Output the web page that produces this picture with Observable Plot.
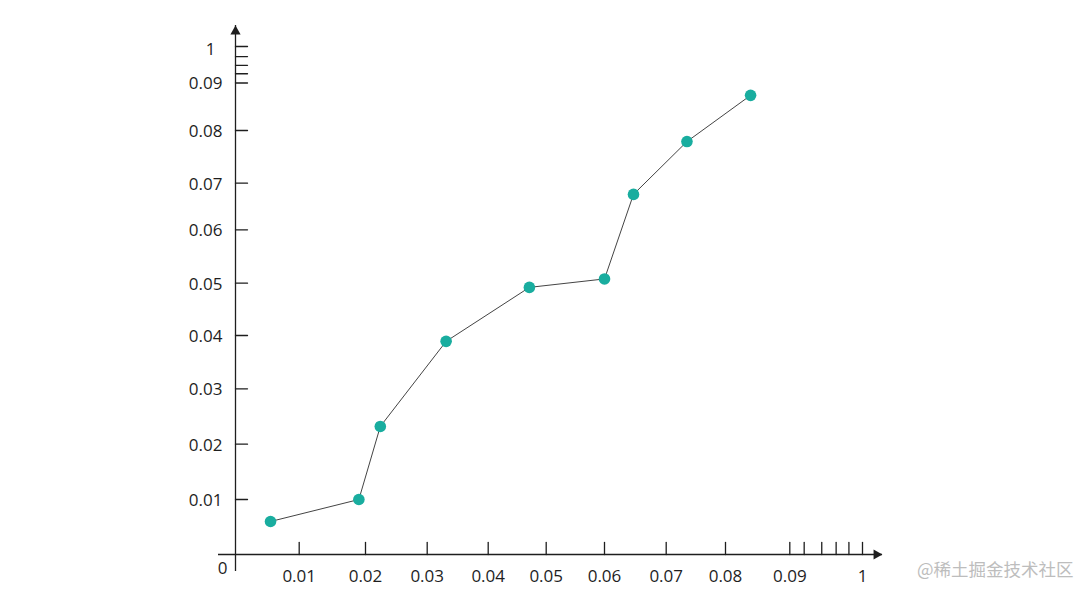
<!DOCTYPE html>
<html>
<head>
<meta charset="utf-8">
<script src="https://cdn.jsdelivr.net/npm/d3@7"></script>
<script src="https://cdn.jsdelivr.net/npm/@observablehq/plot@0.6"></script>
<style>
  html, body { margin: 0; padding: 0; background: #fff; }
  #chart svg { display: block; }
</style>
</head>
<body>
<div id="chart"></div>
<script>
// ---- data ----
const xValues = [0.0055, 0.0190, 0.0224, 0.0331, 0.0471, 0.0600, 0.0647, 0.0735, 0.0839];
const yValues = [0.0060, 0.0100, 0.0232, 0.0389, 0.0492, 0.0508, 0.0676, 0.0779, 0.0874];

// ---- axis ticks and labels ----
const majorTicks  = [0.01, 0.02, 0.03, 0.04, 0.05, 0.06, 0.07, 0.08, 0.09];
const majorLabels = ["0.01", "0.02", "0.03", "0.04", "0.05", "0.06", "0.07", "0.08", "0.09"];
const xMinorTicks = [0.27, 0.49, 0.67, 0.83, 1];
const yMinorTicks = [0.32, 0.53, 0.75, 1];
const endValue = 1;
const endLabel = "1";
const originLabel = "0";
const watermark = "@稀土掘金技术社区";

const points = xValues.map((x, i) => ({x, y: yValues[i]}));
const scaleDomain = [0, ...majorTicks, endValue];

const tickShape = { draw(ctx, l) { ctx.moveTo(0, 0); ctx.lineTo(0, -l); } };
const ink = "#1e1e1e";
const font = "'Open Sans', 'Noto Sans', sans-serif";
const fs = 17;

const chart = Plot.plot({
  width: 1080,
  height: 594,
  marginLeft: 218,
  marginRight: 198,
  marginTop: 25,
  marginBottom: 23,
  style: { fontFamily: font, background: "#fff", color: ink },
  x: { type: "linear", domain: scaleDomain,
       range: [235, 298.7, 365, 426.7, 487.7, 545.7, 604, 665.7, 725, 789.3, 862], axis: null },
  y: { type: "linear", domain: scaleDomain,
       range: [554, 499, 443.7, 388.3, 335, 282.7, 229.3, 182.7, 130, 82.5, 46], axis: null },
  marks: [
    // axis lines
    Plot.ruleY([0], { stroke: ink, strokeWidth: 1.3 }),
    Plot.ruleX([0], { stroke: ink, strokeWidth: 1.3 }),
    // arrowheads
    Plot.dot([0], { y: d => d, frameAnchor: "right", symbol: "triangle", rotate: 90, r: 3.8, fill: ink, stroke: "none", dx: -6 }),
    Plot.dot([0], { x: d => d, frameAnchor: "top", symbol: "triangle", r: 3.8, fill: ink, stroke: "none", dy: 6 }),
    // ticks
    Plot.vector([...majorTicks, ...xMinorTicks], { x: d => d, y: 0, length: 12, anchor: "start", shape: tickShape, stroke: ink, strokeWidth: 1.3 }),
    Plot.vector([...majorTicks, ...yMinorTicks], { x: 0, y: d => d, length: 12, rotate: 90, anchor: "start", shape: tickShape, stroke: ink, strokeWidth: 1.3 }),
    // tick labels
    Plot.text([...majorTicks, endValue], { x: d => d, y: 0, text: (d, i) => [...majorLabels, endLabel][i], dy: 22, fontSize: fs, fill: ink }),
    Plot.text(majorTicks, { x: 0, y: d => d, text: (d, i) => majorLabels[i], textAnchor: "end", dx: -13, dy: (1), fontSize: fs, fill: ink }),
    Plot.text([endValue], { x: 0, y: d => d, text: () => endLabel, textAnchor: "end", dx: -20, dy: 3, fontSize: fs, fill: ink }),
    Plot.text([0], { x: 0, y: 0, text: () => originLabel, dx: -13, dy: 14, fontSize: fs, fill: ink }),
    // data
    Plot.line(points, { x: "x", y: "y", stroke: "#444", strokeWidth: 1 }),
    Plot.dot(points, { x: "x", y: "y", r: 5.8, fill: "#19ad9f", stroke: "none" }),
    // watermark
    Plot.text([watermark], { frameAnchor: "bottom-right", text: d => d, textAnchor: "end", dx: 191, dy: 4,
      fontSize: 17.5, fill: "#bdbdbd", fontFamily: "'Noto Sans CJK SC', sans-serif" })
  ]
});
document.getElementById("chart").appendChild(chart);
</script>
</body>
</html>
